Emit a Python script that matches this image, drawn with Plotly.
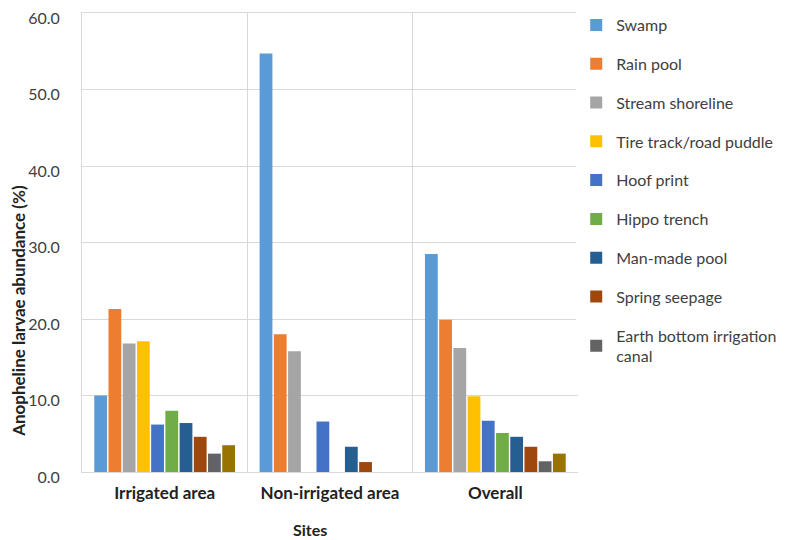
import plotly.graph_objects as go

sites = ["Irrigated area", "Non-irrigated area", "Overall"]
habitats = ["Swamp", "Rain pool", "Stream shoreline", "Tire track/road puddle",
            "Hoof print", "Hippo trench", "Man-made pool", "Spring seepage",
            "Earth bottom irrigation<br>canal", "Other"]
swamp = [10.0, 54.7, 28.5]
rain_pool = [21.3, 18.0, 19.9]
stream_shoreline = [16.8, 15.8, 16.2]
tire_track = [17.1, 0.0, 9.9]
hoof_print = [6.2, 6.6, 6.7]
hippo_trench = [8.0, 0.0, 5.1]
man_made_pool = [6.4, 3.3, 4.6]
spring_seepage = [4.6, 1.3, 3.3]
earth_canal = [2.4, 0.0, 1.4]
other = [3.5, 0.0, 2.4]
series = [swamp, rain_pool, stream_shoreline, tire_track, hoof_print,
          hippo_trench, man_made_pool, spring_seepage, earth_canal, other]
colors = ["#5B9BD5", "#ED7D31", "#A5A5A5", "#FFC000", "#4472C4",
          "#70AD47", "#255E91", "#9E480E", "#636363", "#997300"]
y_ticks = [0, 10, 20, 30, 40, 50, 60]
y_title = "Anopheline larvae abundance (%)"
x_title = "Sites"

fig = go.Figure()
for i, (name, vals, col) in enumerate(zip(habitats, series, colors)):
    fig.add_trace(go.Bar(
        x=sites, y=vals, name=name, marker=dict(color=col, line=dict(width=0)),
        legendgroup=f"g{i}", showlegend=(i < 9),
    ))

font_family = "Lato, Open Sans, sans-serif"
fig.update_layout(
    width=787, height=540,
    margin=dict(l=74, r=217, t=5, b=76, autoexpand=False),
    paper_bgcolor="white", plot_bgcolor="white",
    barmode="group", bargap=0.14, bargroupgap=0.1,
    font=dict(family=font_family, color="#404040", size=14),
    legend=dict(
        xref="container", yref="container", x=0.722, y=1.0, xanchor="left", yanchor="top",
        traceorder="grouped", tracegroupgap=15, maxheight=540,
        font=dict(size=16, color="#404040", family=font_family),
    ),
    showlegend=True,
    annotations=[
        dict(text=f"<b>{y_title}</b>", textangle=-90, xref="paper", yref="paper",
             x=-0.128, y=0.35, xanchor="center", yanchor="middle", showarrow=False,
             font=dict(size=17, color="#222222")),
        dict(text=f"<b>{x_title}</b>", xref="paper", yref="paper",
             x=0.459, y=-0.125, xanchor="center", yanchor="middle", showarrow=False,
             font=dict(size=16, color="#222222")),
    ],
)
fig.update_yaxes(
    range=[0, 60], tickvals=y_ticks, tickformat=".1f", automargin=False,
    showgrid=True, gridcolor="#D9D9D9", gridwidth=1,
    showline=True, linecolor="#D9D9D9", mirror=False,
    zeroline=False, ticks="", ticklabelstandoff=18, ticklabelshift=5,
    ticklabeloverflow="allow",
    tickfont=dict(size=16, color="#404040"),
)
fig.update_xaxes(
    type="category", tickson="boundaries", showgrid=True, gridcolor="#D9D9D9",
    showline=True, linecolor="#D9D9D9", mirror=True, ticks="", automargin=False,
    tickfont=dict(size=17, color="#222222"), ticklabelstandoff=6,
    tickvals=sites, ticktext=[f"<b>{s}</b>" for s in sites],
)
fig.write_html("out.html")
